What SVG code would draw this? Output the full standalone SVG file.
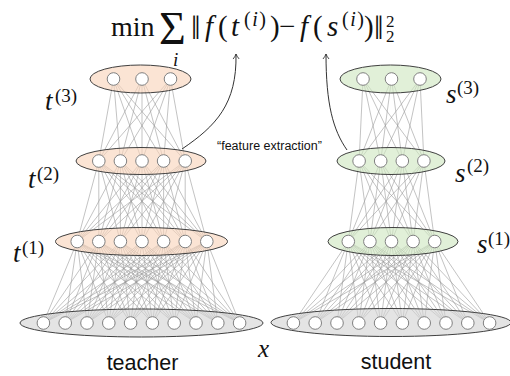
<svg xmlns="http://www.w3.org/2000/svg" width="510" height="376" viewBox="0 0 510 376">
<style>
.m{font-family:"Liberation Serif","DejaVu Serif",serif;fill:#111}
.it{font-style:italic}
.lbl{font-family:"Liberation Sans",Arial,sans-serif;fill:#111}
.edges{fill:none;stroke:#9a9a9a;stroke-width:0.6}
.lay{stroke:#404040;stroke-width:1;fill-opacity:0.62}
.tch{fill:#f9d3b9}
.std{fill:#cfe6c0}
.inp{fill:#d4d4d4}
.u{fill:#fff;stroke:#808080;stroke-width:1}
.arr{fill:none;stroke:#333;stroke-width:1}
</style>
<defs>
<marker id="ah" viewBox="-6 -4 7 8" markerWidth="7" markerHeight="8" refX="0" refY="0" orient="auto" markerUnits="userSpaceOnUse">
<path d="M-5,-3 Q-2,-0.6 0,0 Q-2,0.6 -5,3" fill="none" stroke="#333" stroke-width="0.9"/>
</marker>
</defs>

<!-- formula -->
<g id="formula" class="m" font-size="29">
<text x="111" y="36" font-size="28">min</text>
<text x="159" y="44" font-size="46">Σ</text>
<text x="173" y="66" font-size="19" class="it">i</text>
<text x="191" y="39" font-size="34">‖</text>
<text x="205" y="36" class="it">f</text>
<text x="218" y="36">(</text>
<text x="231" y="36" class="it">t</text>
<text x="244" y="26" font-size="20" letter-spacing="1.5">(<tspan class="it">i</tspan>)</text>
<text x="270" y="36">)</text>
<text x="279" y="36">−</text>
<text x="300" y="36" class="it">f</text>
<text x="313" y="36">(</text>
<text x="327" y="36" class="it">s</text>
<text x="342" y="26" font-size="20" letter-spacing="1.5">(<tspan class="it">i</tspan>)</text>
<text x="364" y="36">)</text>
<text x="374" y="39" font-size="34">‖</text>
<text x="386" y="27" font-size="17">2</text>
<text x="386" y="42" font-size="17">2</text>
</g>

<!-- connectors -->
<g id="connectors">
<path class="edges" d="
M98.8 161L113.5 79L120.4 161M142 161L113.5 79L163.6 161M185.2 161L113.5 79
M98.8 161L142 79L120.4 161M142 161L142 79L163.6 161M185.2 161L142 79
M98.8 161L170.5 79L120.4 161M142 161L170.5 79L163.6 161M185.2 161L170.5 79
M77.2 241.5L98.8 161L98.8 241.5M120.4 241.5L98.8 161L142 241.5M163.6 241.5L98.8 161L185.2 241.5M206.8 241.5L98.8 161
M77.2 241.5L120.4 161L98.8 241.5M120.4 241.5L120.4 161L142 241.5M163.6 241.5L120.4 161L185.2 241.5M206.8 241.5L120.4 161
M77.2 241.5L142 161L98.8 241.5M120.4 241.5L142 161L142 241.5M163.6 241.5L142 161L185.2 241.5M206.8 241.5L142 161
M77.2 241.5L163.6 161L98.8 241.5M120.4 241.5L163.6 161L142 241.5M163.6 241.5L163.6 161L185.2 241.5M206.8 241.5L163.6 161
M77.2 241.5L185.2 161L98.8 241.5M120.4 241.5L185.2 161L142 241.5M163.6 241.5L185.2 161L185.2 241.5M206.8 241.5L185.2 161
M43.4 323L77.2 241.5L65.2 323M87 323L77.2 241.5L108.8 323M130.6 323L77.2 241.5L152.4 323M174.2 323L77.2 241.5L196 323M217.8 323L77.2 241.5L239.6 323
M43.4 323L98.8 241.5L65.2 323M87 323L98.8 241.5L108.8 323M130.6 323L98.8 241.5L152.4 323M174.2 323L98.8 241.5L196 323M217.8 323L98.8 241.5L239.6 323
M43.4 323L120.4 241.5L65.2 323M87 323L120.4 241.5L108.8 323M130.6 323L120.4 241.5L152.4 323M174.2 323L120.4 241.5L196 323M217.8 323L120.4 241.5L239.6 323
M43.4 323L142 241.5L65.2 323M87 323L142 241.5L108.8 323M130.6 323L142 241.5L152.4 323M174.2 323L142 241.5L196 323M217.8 323L142 241.5L239.6 323
M43.4 323L163.6 241.5L65.2 323M87 323L163.6 241.5L108.8 323M130.6 323L163.6 241.5L152.4 323M174.2 323L163.6 241.5L196 323M217.8 323L163.6 241.5L239.6 323
M43.4 323L185.2 241.5L65.2 323M87 323L185.2 241.5L108.8 323M130.6 323L185.2 241.5L152.4 323M174.2 323L185.2 241.5L196 323M217.8 323L185.2 241.5L239.6 323
M43.4 323L206.8 241.5L65.2 323M87 323L206.8 241.5L108.8 323M130.6 323L206.8 241.5L152.4 323M174.2 323L206.8 241.5L196 323M217.8 323L206.8 241.5L239.6 323
"/>
<path class="edges" d="
M359.1 161L363 79L380.7 161M402.3 161L363 79L423.9 161
M359.1 161L391.5 79L380.7 161M402.3 161L391.5 79L423.9 161
M359.1 161L420 79L380.7 161M402.3 161L420 79L423.9 161
M348.3 241.5L359.1 161L369.9 241.5M391.5 241.5L359.1 161L413.1 241.5M434.7 241.5L359.1 161
M348.3 241.5L380.7 161L369.9 241.5M391.5 241.5L380.7 161L413.1 241.5M434.7 241.5L380.7 161
M348.3 241.5L402.3 161L369.9 241.5M391.5 241.5L402.3 161L413.1 241.5M434.7 241.5L402.3 161
M348.3 241.5L423.9 161L369.9 241.5M391.5 241.5L423.9 161L413.1 241.5M434.7 241.5L423.9 161
M293.4 323L348.3 241.5L315.2 323M337 323L348.3 241.5L358.8 323M380.6 323L348.3 241.5L402.4 323M424.2 323L348.3 241.5L446 323M467.8 323L348.3 241.5L489.6 323
M293.4 323L369.9 241.5L315.2 323M337 323L369.9 241.5L358.8 323M380.6 323L369.9 241.5L402.4 323M424.2 323L369.9 241.5L446 323M467.8 323L369.9 241.5L489.6 323
M293.4 323L391.5 241.5L315.2 323M337 323L391.5 241.5L358.8 323M380.6 323L391.5 241.5L402.4 323M424.2 323L391.5 241.5L446 323M467.8 323L391.5 241.5L489.6 323
M293.4 323L413.1 241.5L315.2 323M337 323L413.1 241.5L358.8 323M380.6 323L413.1 241.5L402.4 323M424.2 323L413.1 241.5L446 323M467.8 323L413.1 241.5L489.6 323
M293.4 323L434.7 241.5L315.2 323M337 323L434.7 241.5L358.8 323M380.6 323L434.7 241.5L402.4 323M424.2 323L434.7 241.5L446 323M467.8 323L434.7 241.5L489.6 323
"/>
<path class="arr" d="M182,149 C216,126 237,104 236,54" marker-end="url(#ah)"/>
<path class="arr" d="M347,150 C333,130 326,104 326,54" marker-end="url(#ah)"/>
</g>

<!-- teacher layers -->
<g id="teacher-input">
<ellipse class="lay inp" cx="141.5" cy="323" rx="121.5" ry="14"/>
<circle class="u" cx="43.4" cy="323" r="6.3"/><circle class="u" cx="65.2" cy="323" r="6.3"/><circle class="u" cx="87" cy="323" r="6.3"/><circle class="u" cx="108.8" cy="323" r="6.3"/><circle class="u" cx="130.6" cy="323" r="6.3"/><circle class="u" cx="152.4" cy="323" r="6.3"/><circle class="u" cx="174.2" cy="323" r="6.3"/><circle class="u" cx="196" cy="323" r="6.3"/><circle class="u" cx="217.8" cy="323" r="6.3"/><circle class="u" cx="239.6" cy="323" r="6.3"/>
</g>
<g id="teacher-t1">
<ellipse class="lay tch" cx="141.5" cy="241.5" rx="86" ry="14"/>
<circle class="u" cx="77.2" cy="241.5" r="6.3"/><circle class="u" cx="98.8" cy="241.5" r="6.3"/><circle class="u" cx="120.4" cy="241.5" r="6.3"/><circle class="u" cx="142" cy="241.5" r="6.3"/><circle class="u" cx="163.6" cy="241.5" r="6.3"/><circle class="u" cx="185.2" cy="241.5" r="6.3"/><circle class="u" cx="206.8" cy="241.5" r="6.3"/>
</g>
<g id="teacher-t2">
<ellipse class="lay tch" cx="141" cy="161" rx="65" ry="13.5"/>
<circle class="u" cx="98.8" cy="161" r="6.3"/><circle class="u" cx="120.4" cy="161" r="6.3"/><circle class="u" cx="142" cy="161" r="6.3"/><circle class="u" cx="163.6" cy="161" r="6.3"/><circle class="u" cx="185.2" cy="161" r="6.3"/>
</g>
<g id="teacher-t3">
<ellipse class="lay tch" cx="140.5" cy="79" rx="50.5" ry="14"/>
<circle class="u" cx="113.5" cy="79" r="6.3"/><circle class="u" cx="142" cy="79" r="6.3"/><circle class="u" cx="170.5" cy="79" r="6.3"/>
</g>

<!-- student layers -->
<g id="student-input">
<ellipse class="lay inp" cx="391" cy="322.5" rx="120" ry="14"/>
<circle class="u" cx="293.4" cy="323" r="6.3"/><circle class="u" cx="315.2" cy="323" r="6.3"/><circle class="u" cx="337" cy="323" r="6.3"/><circle class="u" cx="358.8" cy="323" r="6.3"/><circle class="u" cx="380.6" cy="323" r="6.3"/><circle class="u" cx="402.4" cy="323" r="6.3"/><circle class="u" cx="424.2" cy="323" r="6.3"/><circle class="u" cx="446" cy="323" r="6.3"/><circle class="u" cx="467.8" cy="323" r="6.3"/><circle class="u" cx="489.6" cy="323" r="6.3"/>
</g>
<g id="student-s1">
<ellipse class="lay std" cx="393" cy="241.5" rx="65" ry="14"/>
<circle class="u" cx="348.3" cy="241.5" r="6.3"/><circle class="u" cx="369.9" cy="241.5" r="6.3"/><circle class="u" cx="391.5" cy="241.5" r="6.3"/><circle class="u" cx="413.1" cy="241.5" r="6.3"/><circle class="u" cx="434.7" cy="241.5" r="6.3"/>
</g>
<g id="student-s2">
<ellipse class="lay std" cx="391" cy="161" rx="54" ry="13.5"/>
<circle class="u" cx="359.1" cy="161" r="6.3"/><circle class="u" cx="380.7" cy="161" r="6.3"/><circle class="u" cx="402.3" cy="161" r="6.3"/><circle class="u" cx="423.9" cy="161" r="6.3"/>
</g>
<g id="student-s3">
<ellipse class="lay std" cx="390.5" cy="79" rx="50.5" ry="14"/>
<circle class="u" cx="363" cy="79" r="6.3"/><circle class="u" cx="391.5" cy="79" r="6.3"/><circle class="u" cx="420" cy="79" r="6.3"/>
</g>

<!-- labels -->
<g id="labels" class="m">
<text x="45" y="110" font-size="27" class="it">t</text><text x="55" y="102" font-size="19">(3)</text>
<text x="28" y="188" font-size="27" class="it">t</text><text x="37" y="180" font-size="19">(2)</text>
<text x="13" y="262" font-size="27" class="it">t</text><text x="22" y="254" font-size="19">(1)</text>
<text x="446" y="103" font-size="27" class="it">s</text><text x="457" y="94" font-size="19">(3)</text>
<text x="455" y="182" font-size="27" class="it">s</text><text x="467" y="172" font-size="19">(2)</text>
<text x="477" y="253" font-size="27" class="it">s</text><text x="488" y="245" font-size="19">(1)</text>
<text x="258" y="357" font-size="25" class="it">x</text>
</g>
<text class="lbl" x="217" y="150" font-size="12.5">“feature extraction”</text>
<text class="lbl" x="142.5" y="370" font-size="21.5" text-anchor="middle">teacher</text>
<text class="lbl" x="396" y="369" font-size="21.5" text-anchor="middle">student</text>
</svg>
